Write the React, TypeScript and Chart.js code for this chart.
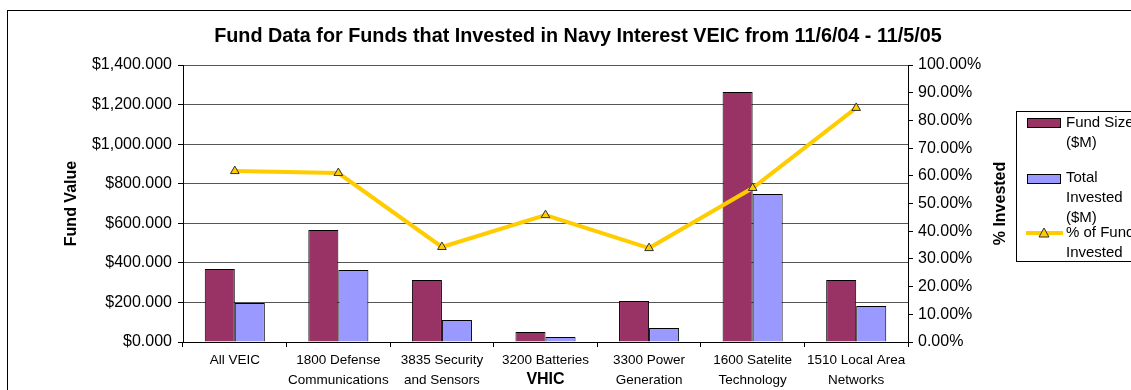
import { useEffect, useRef } from 'react';
import { Chart, registerables } from 'chart.js';

Chart.register(...registerables);

const categories: string[][] = [
  ['All VEIC'],
  ['1800 Defense', 'Communications'],
  ['3835 Security', 'and Sensors'],
  ['3200 Batteries'],
  ['3300 Power', 'Generation'],
  ['1600 Satelite', 'Technology'],
  ['1510 Local Area', 'Networks'],
];
const fundSize = [369, 566, 313, 50, 207, 1263, 313];
const totalInvested = [197, 364, 111, 25, 71, 748, 182];
const pctInvested = [61.7, 61.0, 34.3, 45.8, 33.9, 55.6, 84.5];

const titleText = 'Fund Data for Funds that Invested in Navy Interest VEIC from 11/6/04 - 11/5/05';
const xTitle = 'VHIC';
const yTitle = 'Fund Value';
const y1Title = '% Invested';
const legendLabels = [['Fund Size', '($M)'], ['Total', 'Invested', '($M)'], ['% of Fund', 'Invested']];

const FONT = '"Liberation Sans", Arial, sans-serif';
const MAROON = '#993366';
const PERI = '#9999FF';
const GOLD = '#FFCC00';

function fmtDollar(v: number): string {
  const s = Math.round(v).toString().replace(/\B(?=(\d{3})+(?!\d))/g, ',');
  return '$' + s + '.000';
}

const decorPlugin = {
  id: 'decor',
  beforeDraw(chart: any) {
    const ctx = chart.ctx;
    ctx.save();
    ctx.fillStyle = '#fff';
    ctx.fillRect(0, 0, chart.width, chart.height);
    ctx.restore();
  },
  afterDraw(chart: any) {
    const ctx = chart.ctx as CanvasRenderingContext2D;
    const area = chart.chartArea;
    ctx.save();
    // outer border
    ctx.strokeStyle = '#000';
    ctx.lineWidth = 1;
    ctx.strokeRect(7.5, 10.5, 1300, 500);
    // title
    ctx.fillStyle = '#000';
    ctx.font = 'bold 19.8px ' + FONT;
    ctx.textAlign = 'center';
    ctx.textBaseline = 'middle';
    ctx.fillText(titleText, 578, 37);
    // x title
    ctx.font = 'bold 16px ' + FONT;
    ctx.fillText(xTitle, (area.left + area.right) / 2, 380);
    // y titles
    ctx.save();
    ctx.translate(72, (area.top + area.bottom) / 2);
    ctx.rotate(-Math.PI / 2);
    ctx.fillText(yTitle, 0, 0);
    ctx.restore();
    ctx.save();
    ctx.translate(1001, (area.top + area.bottom) / 2);
    ctx.rotate(-Math.PI / 2);
    ctx.fillText(y1Title, 0, 0);
    ctx.restore();

    // legend
    ctx.fillStyle = '#fff';
    ctx.fillRect(1016, 111, 200, 150);
    ctx.strokeStyle = '#000';
    ctx.strokeRect(1016.5, 111.5, 200, 150);
    ctx.font = '15px ' + FONT;
    ctx.textAlign = 'left';
    ctx.textBaseline = 'middle';
    const ds = chart.data.datasets;
    // item 1
    ctx.fillStyle = ds[0].backgroundColor;
    ctx.fillRect(1027.5, 118.5, 33, 9);
    ctx.strokeStyle = '#000';
    ctx.strokeRect(1027.5, 118.5, 33, 9);
    ctx.fillStyle = '#000';
    legendLabels[0].forEach((t, i) => ctx.fillText(t, 1066, 123 + i * 20));
    // item 2
    ctx.fillStyle = ds[1].backgroundColor;
    ctx.fillRect(1027.5, 174.5, 33, 9);
    ctx.strokeRect(1027.5, 174.5, 33, 9);
    ctx.fillStyle = '#000';
    legendLabels[1].forEach((t, i) => ctx.fillText(t, 1066, 178 + i * 20));
    // item 3
    ctx.strokeStyle = ds[2].borderColor;
    ctx.lineWidth = 4;
    ctx.beginPath();
    ctx.moveTo(1026, 233);
    ctx.lineTo(1063, 233);
    ctx.stroke();
    ctx.fillStyle = GOLD;
    ctx.strokeStyle = '#333';
    ctx.lineWidth = 1;
    ctx.beginPath();
    ctx.moveTo(1044, 228);
    ctx.lineTo(1049, 237);
    ctx.lineTo(1039, 237);
    ctx.closePath();
    ctx.fill();
    ctx.stroke();
    ctx.fillStyle = '#000';
    legendLabels[2].forEach((t, i) => ctx.fillText(t, 1066, 233 + i * 20));
    ctx.restore();
  },
};

export default function App() {
  const ref = useRef<HTMLCanvasElement>(null);
  useEffect(() => {
    if (!ref.current) return;
    const chart = new Chart(ref.current, {
      type: 'bar',
      data: {
        labels: categories,
        datasets: [
          {
            type: 'bar',
            label: 'Fund Size ($M)',
            data: fundSize,
            backgroundColor: MAROON,
            borderColor: '#000',
            borderWidth: 1,
            yAxisID: 'y',
            order: 1,
            barPercentage: 1,
            categoryPercentage: 0.58,
          },
          {
            type: 'bar',
            label: 'Total Invested ($M)',
            data: totalInvested,
            backgroundColor: PERI,
            borderColor: '#000',
            borderWidth: 1,
            yAxisID: 'y',
            order: 1,
            barPercentage: 1,
            categoryPercentage: 0.58,
          },
          {
            type: 'line',
            label: '% of Fund Invested',
            data: pctInvested,
            borderColor: GOLD,
            borderWidth: 4,
            backgroundColor: GOLD,
            pointStyle: 'triangle',
            pointRadius: 5,
            pointBackgroundColor: GOLD,
            pointBorderColor: '#333',
            pointBorderWidth: 1,
            tension: 0,
            yAxisID: 'y1',
            order: 0,
          } as any,
        ],
      },
      options: {
        responsive: false,
        animation: false,
        devicePixelRatio: 1,
        layout: { padding: { top: 65, left: 0, right: 0, bottom: 0 } },
        plugins: {
          legend: { display: false },
          title: { display: false },
          tooltip: { enabled: false },
        },
        scales: {
          x: {
            offset: true,
            grid: { display: true, drawOnChartArea: false, tickLength: 5, color: '#000', offset: true },
            border: { color: '#000' },
            ticks: {
              font: { family: FONT, size: 13.5, lineHeight: 1.48 },
              color: '#000',
              padding: 3,
              maxRotation: 0,
              autoSkip: false,
            },
            afterFit(s: any) {
              s.height = 48;
            },
          },
          y: {
            position: 'left',
            min: 0,
            max: 1400,
            ticks: {
              stepSize: 200,
              font: { family: FONT, size: 16 },
              color: '#000',
              padding: 6,
              callback: (v: any) => fmtDollar(Number(v)),
            },
            grid: { color: '#555', tickColor: '#000', tickLength: 5 },
            border: { color: '#000' },
            afterFit(s: any) {
              s.width = 183;
            },
          },
          y1: {
            position: 'right',
            min: 0,
            max: 100,
            ticks: {
              stepSize: 10,
              font: { family: FONT, size: 16 },
              color: '#000',
              padding: 5,
              callback: (v: any) => Number(v).toFixed(2) + '%',
            },
            grid: { drawOnChartArea: false, tickColor: '#000', tickLength: 5 },
            border: { color: '#000' },
            afterFit(s: any) {
              s.width = 223;
            },
          },
        },
      },
      plugins: [decorPlugin],
    });
    return () => chart.destroy();
  }, []);
  return (
    <div style={{ position: 'absolute', left: 0, top: 0, width: 1131, height: 390 }}>
      <canvas ref={ref} width={1131} height={390} style={{ display: 'block' }} />
    </div>
  );
}
